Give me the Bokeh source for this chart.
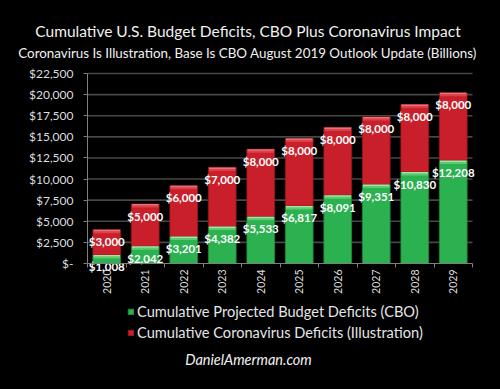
import math
from bokeh.plotting import figure
from bokeh.models import Range1d, FixedTicker, ColumnDataSource, Legend, LegendItem
from bokeh.core.properties import value
from bokeh.embed import file_html
from bokeh.resources import INLINE

years = ["2020", "2021", "2022", "2023", "2024", "2025", "2026", "2027", "2028", "2029"]
cbo = [1008, 2042, 3201, 4382, 5533, 6817, 8091, 9351, 10830, 12208]
corona = [3000, 5000, 6000, 7000, 8000, 8000, 8000, 8000, 8000, 8000]
y_ticks = [0, 2500, 5000, 7500, 10000, 12500, 15000, 17500, 20000, 22500]
y_tick_labels = ["$-", "$2,500", "$5,000", "$7,500", "$10,000", "$12,500",
                 "$15,000", "$17,500", "$20,000", "$22,500"]
series_names = ["Cumulative Projected Budget Deficits (CBO)",
                "Cumulative Coronavirus Deficits (Illustration)"]
title_text = "Cumulative U.S. Budget Deficits, CBO Plus Coronavirus Impact"
subtitle_text = "Coronavirus Is Illustration, Base Is CBO August 2019 Outlook Update (Billions)"
credit_text = "DanielAmerman.com"

FONT = "Lato"
W, H = 500, 389
# chart area inside the canvas (pixels)
CL, CR, CT, CB = 87, 472, 73, 263
NX = len(years)
YMAX = 22500
ppx = (CR - CL) / NX          # pixels per category
upp = YMAX / (CB - CT)        # data units per pixel

p = figure(width=W, height=H, output_backend="svg", toolbar_location=None,
           x_range=Range1d(-CL / ppx, NX + (W - CR) / ppx),
           y_range=Range1d(-(H - CB) * upp, YMAX + CT * upp),
           background_fill_color="black", border_fill_color="black",
           min_border=0)
p.outline_line_color = None
p.xgrid.visible = False
p.ygrid.visible = False

def px_to_x(px):
    return (px - CL) / ppx

def px_to_y(py):
    return (CB - py) * upp

# gridlines
p.segment(x0=0, x1=NX, y0=y_ticks[1:], y1=y_ticks[1:], line_color="#474747", line_width=1.6)

xs = [i + 0.5 for i in range(NX)]
tops_g = cbo
tops_r = [c + r for c, r in zip(cbo, corona)]
src = ColumnDataSource(dict(x=xs, top_g=tops_g, top_r=tops_r, bot=[0] * NX,
                            lab_g=["${:,}".format(v) for v in cbo],
                            lab_r=["${:,}".format(v) for v in corona],
                            ly_g=[t - 12 * upp for t in tops_g],
                            ly_r=[t - 12 * upp for t in tops_r],
                            hg1=[t - 1.5 * upp for t in tops_g],
                            hg2=[t - 3.5 * upp for t in tops_g],
                            hr1=[t - 1.5 * upp for t in tops_r],
                            hr2=[t - 3.5 * upp for t in tops_r]))

BW = 0.72
GREEN, RED = "#2bb14f", "#c91f2a"
rg = p.vbar(x="x", width=BW, bottom="bot", top="top_g", source=src,
            fill_color=GREEN, line_color="#1f8c3b", line_width=0.8)
rr = p.vbar(x="x", width=BW, bottom="top_g", top="top_r", source=src,
            fill_color=RED, line_color="#9c1820", line_width=0.8)
# bevel highlights at the top of each segment
p.vbar(x="x", width=BW - 0.03, bottom="hg2", top="hg1", source=src,
       fill_color="#5fcb71", line_color=None)
p.vbar(x="x", width=BW - 0.03, bottom="hg1", top="top_g", source=src,
       fill_color="#9fe6a8", line_color=None)
p.vbar(x="x", width=BW - 0.03, bottom="hr2", top="hr1", source=src,
       fill_color="#d9424b", line_color=None)
p.vbar(x="x", width=BW - 0.03, bottom="hr1", top="top_r", source=src,
       fill_color="#ea737a", line_color=None)

for ycol, tcol in (("ly_g", "lab_g"), ("ly_r", "lab_r")):
    p.text(x="x", y=ycol, text=tcol, source=src, text_align="center",
           text_baseline="middle", text_color="white",
           text_font=value(FONT), text_font_size="11.5px", text_font_style="bold")

# axes drawn at fixed data locations
ya = p.yaxis[0]
ya.fixed_location = 0
ya.bounds = (0, YMAX)
ya.ticker = FixedTicker(ticks=y_ticks)
ya.major_label_overrides = {t: l for t, l in zip(y_ticks, y_tick_labels)}
ya.axis_line_color = "#7f7f7f"
ya.major_tick_line_color = "#7f7f7f"
ya.major_tick_out = 4
ya.major_tick_in = 0
ya.minor_tick_line_color = None
ya.minor_tick_out = 0
ya.major_label_standoff = 10
ya.major_label_text_font = FONT
ya.major_label_text_font_size = "12px"
ya.major_label_text_color = "#dedede"

xa = p.xaxis[0]
xa.fixed_location = 0
xa.bounds = (0, NX)
xa.ticker = FixedTicker(ticks=xs, minor_ticks=list(range(NX + 1)))
xa.major_label_overrides = {x: y for x, y in zip(xs, years)}
xa.axis_line_color = "#7f7f7f"
xa.major_tick_out = 0
xa.major_tick_in = 0
xa.minor_tick_line_color = "#7f7f7f"
xa.minor_tick_out = 4
xa.minor_tick_in = 0
xa.major_label_orientation = math.pi / 2
xa.major_label_standoff = 2
xa.major_label_text_font = FONT
xa.major_label_text_font_size = "10.5px"
xa.major_label_text_color = "#dedede"

# titles and credit as text glyphs
def text_at(px, py, text, size, style="normal"):
    p.text(x=[px_to_x(px)], y=[px_to_y(py)], text=[text], text_align="center",
           text_baseline="middle", text_color="#f2f2f2", text_font=value(FONT),
           text_font_size=size, text_font_style=style)

text_at(247.5, 30, title_text, "15.5px")
text_at(247, 52.5, subtitle_text, "13.4px")
text_at(248, 359, credit_text, "14.5px", "italic")

legend = Legend(items=[LegendItem(label=series_names[0], renderers=[rg]),
                       LegendItem(label=series_names[1], renderers=[rr])],
                location=(127, 47), orientation="vertical",
                glyph_width=7, glyph_height=7, label_height=20, spacing=1,
                padding=0, margin=0, label_standoff=3,
                label_text_font=FONT, label_text_font_size="14.6px",
                label_text_color="#e6e6e6",
                border_line_color=None, background_fill_alpha=0)
p.add_layout(legend)

html = file_html(p, INLINE)
html = html.replace("<head>", "<head><style>html,body{background:#000;}</style>", 1)
open("out.html", "w").write(html)
